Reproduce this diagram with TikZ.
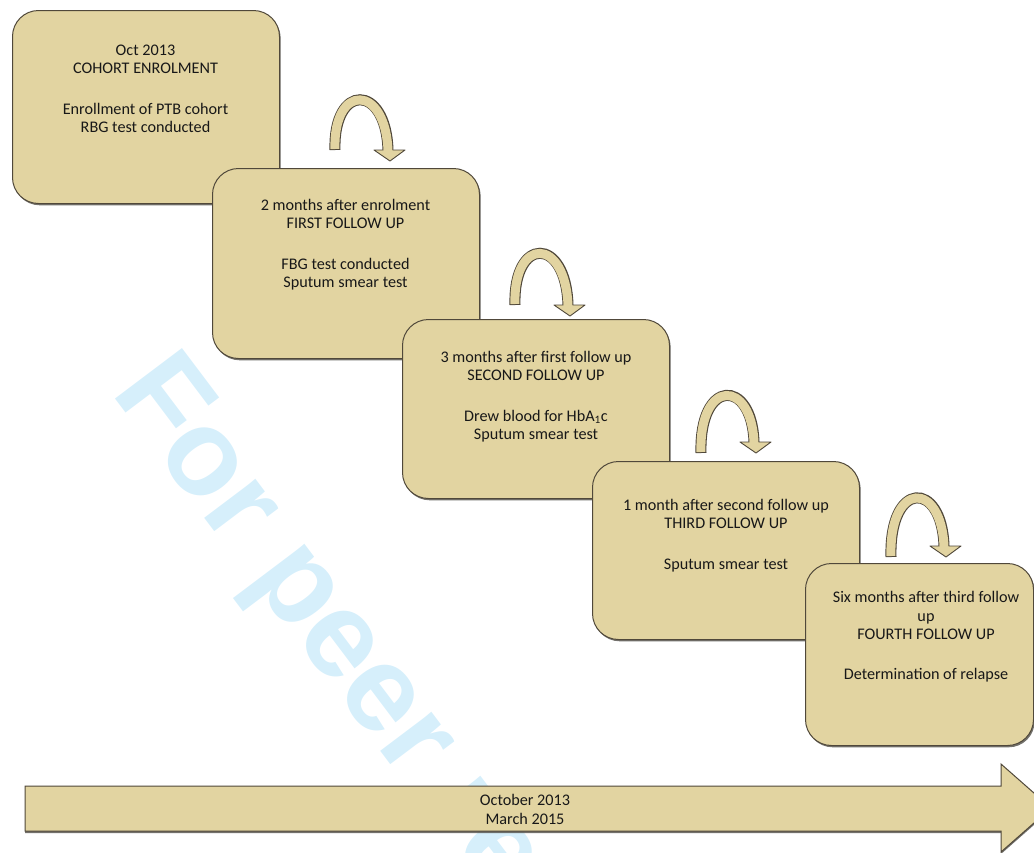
\documentclass[tikz,border=0pt]{standalone}
\usepackage{fontspec}
\setmainfont{Carlito}
\newfontfamily\markfont{Liberation Sans}
\usetikzlibrary{shadows}

\definecolor{stagefill}{RGB}{226,212,161}
\definecolor{stageline}{RGB}{80,72,58}
\definecolor{stageshade}{RGB}{90,88,82}
\definecolor{markblue}{RGB}{214,239,251}
\definecolor{ink}{RGB}{24,24,24}

% curved "next stage" arrow: foot x, foot y, drop of the tip below the foot, arch height
\newcommand\looparrow[4]{%
  \draw[line width=11pt, draw=stageline]
    (#1,#2) .. controls (#1-2,#2-#4) and (#1+51,#2-#4) .. (#1+53,#2+#3-11);
  \filldraw[fill=stagefill, draw=stageline, line width=0.9pt, line join=round]
    (#1+39,#2+#3-11) -- (#1+70,#2+#3-11) -- (#1+55,#2+#3) -- cycle;
  \draw[line width=9pt, draw=stagefill, shorten <=1pt, shorten >=-2pt]
    (#1,#2) .. controls (#1-2,#2-#4) and (#1+51,#2-#4) .. (#1+53,#2+#3-11);
}

\begin{document}
\begin{tikzpicture}[x=1pt, y=-1pt,
  stage/.style={draw=stageline, line width=1pt, fill=stagefill, rounded corners=26pt,
    anchor=north west, inner sep=0pt,
    drop shadow={shadow xshift=1.2pt, shadow yshift=-1.8pt, fill=stageshade, opacity=0.85}},
  caption/.style={anchor=north, align=center, text=ink, inner sep=0pt,
    font=\fontsize{16.2}{18.7}\selectfont},
  watermark/.style={text=markblue, inner sep=0pt,
    font=\markfont\bfseries\fontsize{122}{122}\selectfont}
]
\useasboundingbox (0,0) rectangle (1034,852);
\clip (0,0) rectangle (1034,852);

% background stamp
\node[watermark, rotate=-53, anchor=base west] (peer) at (110,392) {For peer review};

% time line
\draw[draw=stageline, line width=1pt, fill=stagefill,
      drop shadow={shadow xshift=0pt, shadow yshift=-2pt, fill=stageshade, opacity=0.85}]
  (25,786) -- (1001,786) -- (1001,764) -- (1051,808) -- (1001,852) -- (1001,831) -- (25,831) -- cycle;
\node[caption] (span) at (525,792) {\strut October 2013\\March 2015};

% stages
\node[stage, minimum width=267pt, minimum height=193pt] (enrol) at (12,10) {};
\node[caption] (enroltext) at (145.5,42)
  {\strut Oct 2013\\COHORT ENROLMENT\\[21.5pt]Enrollment of PTB cohort\\RBG test conducted};

\node[stage, minimum width=267pt, minimum height=190pt] (first) at (212,168) {};
\node[caption] (firsttext) at (345.5,197)
  {\strut 2 months after enrolment\\FIRST FOLLOW UP\\[21.5pt]FBG test conducted\\Sputum smear test};

\node[stage, minimum width=267pt, minimum height=179pt] (second) at (402,319) {};
\node[caption] (secondtext) at (536,349)
  {\strut 3 months after first follow up\\SECOND FOLLOW UP\\[21.5pt]Drew blood for HbA\textsubscript{1}c\\Sputum smear test};

\node[stage, minimum width=267pt, minimum height=178pt] (third) at (592,461) {};
\node[caption] (thirdtext) at (726,497)
  {\strut 1 month after second follow up\\THIRD FOLLOW UP\\[21.5pt]Sputum smear test};

\node[stage, minimum width=228pt, minimum height=182pt] (fourth) at (805,563) {};
\node[caption] (fourthtext) at (926,589)
  {\strut Six months after third follow\\up\\FOURTH FOLLOW UP\\[21.5pt]Determination of relapse};

% arrows between stages
\looparrow{335}{150}{11}{67}
\looparrow{515}{305}{11}{69}
\looparrow{701}{453}{0}{75}
\looparrow{891}{557}{0}{77}
\end{tikzpicture}
\end{document}
